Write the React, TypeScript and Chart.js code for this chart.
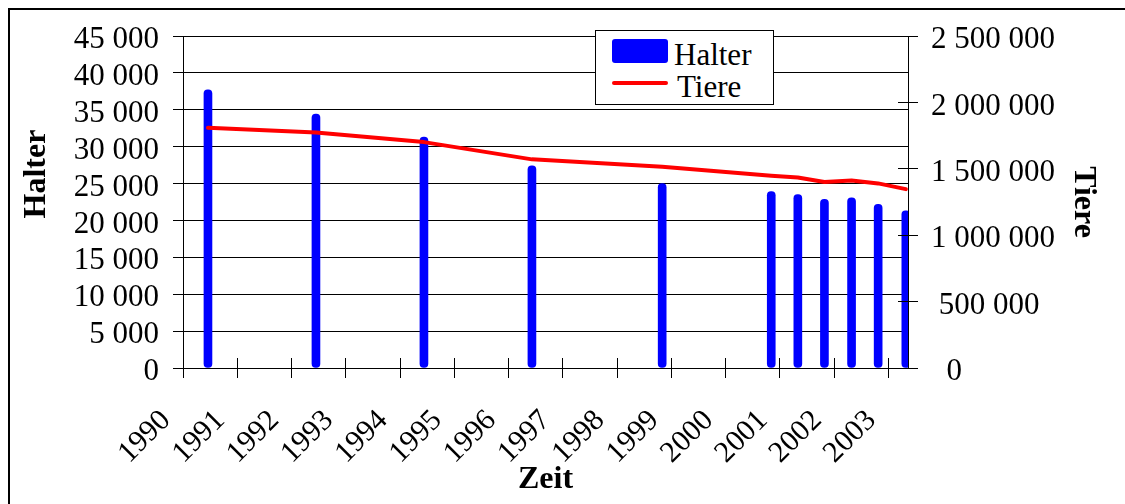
import React, { useEffect, useRef } from 'react';
import { Chart, registerables } from 'chart.js';

Chart.register(...registerables);

// ---------------- data ----------------
const yearTicks = [1990, 1991, 1992, 1993, 1994, 1995, 1996, 1997, 1998, 1999, 2000, 2001, 2002, 2003];
const xAxisMin = 1990;
const xAxisMax = 2003.36;
// positions of the survey dates on the time axis (in years)
const surveyPositions = [1990.46, 1992.45, 1994.44, 1996.43, 1998.83, 2000.84, 2001.33, 2001.82, 2002.32, 2002.81, 2003.32];
const halterValues = [37700, 34400, 31300, 27400, 25000, 23900, 23500, 22850, 23050, 22200, 21300];
const tiereValues = [1809000, 1774000, 1701000, 1571000, 1515000, 1448000, 1435000, 1400000, 1412000, 1390000, 1347000];
const halterAxisTicks = [0, 5000, 10000, 15000, 20000, 25000, 30000, 35000, 40000, 45000];
const tiereAxisTicks = [0, 500000, 1000000, 1500000, 2000000, 2500000];
const halterLabel = 'Halter';
const tiereLabel = 'Tiere';
const xTitle = 'Zeit';

// ---------------- styling ----------------
const FONT = "'Liberation Serif', 'Times New Roman', serif";
const BLUE = '#0000FF';
const RED = '#FF0000';

const fmt = (v: number) => String(v).replace(/\B(?=(\d{3})+(?!\d))/g, ' ');
const fmtRight = (v: number) => {
  const s = fmt(v);
  if (s.length === 1) return '  ' + s;
  if (s.length === 7) return ' ' + s;
  return s;
};

const crossTicks = {
  id: 'crossTicks',
  afterDatasetsDraw(chart: any) {
    const { ctx, chartArea, scales } = chart;
    const a = (p: number) => Math.round(p - 0.5) + 0.5;
    ctx.save();
    ctx.strokeStyle = '#000';
    ctx.lineWidth = 1;
    ctx.beginPath();
    const xs = scales.x;
    xs.ticks.forEach((t: any) => {
      const px = a(xs.getPixelForValue(t.value));
      ctx.moveTo(px, chartArea.bottom - 10);
      ctx.lineTo(px, chartArea.bottom);
    });
    const y2 = scales.y2;
    y2.ticks.forEach((t: any) => {
      const py = a(y2.getPixelForValue(t.value));
      ctx.moveTo(chartArea.right - 10, py);
      ctx.lineTo(chartArea.right, py);
    });
    const rx = a(chartArea.right);
    ctx.moveTo(rx, chartArea.top);
    ctx.lineTo(rx, chartArea.bottom);
    ctx.stroke();
    ctx.restore();
  },
};

export default function App() {
  const ref = useRef<HTMLCanvasElement | null>(null);

  useEffect(() => {
    if (!ref.current) return;
    const chart = new Chart(ref.current, {
      type: 'bar',
      data: {
        datasets: [
          {
            type: 'bar',
            label: halterLabel,
            data: surveyPositions.map((x, i) => ({ x, y: halterValues[i] })),
            backgroundColor: BLUE,
            borderWidth: 0,
            barThickness: 8,
            borderRadius: 4,
            borderSkipped: false,
            yAxisID: 'y',
            order: 1,
          } as any,
          {
            type: 'line',
            label: tiereLabel,
            data: surveyPositions.map((x, i) => ({ x, y: tiereValues[i] })),
            borderColor: RED,
            backgroundColor: RED,
            borderWidth: 4,
            pointRadius: 0,
            tension: 0,
            borderCapStyle: 'round',
            borderJoinStyle: 'round',
            fill: false,
            yAxisID: 'y2',
            order: 0,
          } as any,
        ],
      },
      options: {
        responsive: false,
        maintainAspectRatio: false,
        animation: false,
        events: [],
        layout: { padding: { top: 36, left: 0, right: 0, bottom: 0 } },
        plugins: { legend: { display: false }, tooltip: { enabled: false } },
        scales: {
          x: {
            type: 'linear',
            position: 'bottom',
            min: xAxisMin,
            max: xAxisMax,
            offset: false,
            afterBuildTicks: (s: any) => {
              s.ticks = yearTicks.map((v) => ({ value: v }));
            },
            afterFit: (s: any) => {
              s.height = 136;
            },
            grid: { display: true, drawOnChartArea: false, drawTicks: true, tickLength: 10, color: '#000', lineWidth: 1, offset: false },
            border: { display: true, color: '#000', width: 1 },
            ticks: {
              autoSkip: false,
              minRotation: 45,
              maxRotation: 45,
              padding: 25,
              labelOffset: -17,
              color: '#000',
              font: { family: FONT, size: 30 },
              callback: (v: any) => String(v),
            },
            title: { display: true, text: xTitle, color: '#000', font: { family: FONT, size: 32, weight: 'bold' }, padding: { top: 0, bottom: 5 } },
          },
          y: {
            type: 'linear',
            position: 'left',
            min: 0,
            max: 45000,
            afterBuildTicks: (s: any) => {
              s.ticks = halterAxisTicks.map((v) => ({ value: v }));
            },
            afterFit: (s: any) => {
              s.width = 183;
            },
            grid: { display: true, drawOnChartArea: true, drawTicks: true, tickLength: 10, color: '#000', lineWidth: 1 },
            border: { display: true, color: '#000', width: 1 },
            ticks: { autoSkip: false, padding: 14, labelOffset: 4, color: '#000', font: { family: FONT, size: 31, lineHeight: 1 }, callback: (v: any) => fmt(Number(v)) },
            title: { display: true, text: '       ' + halterLabel, color: '#000', font: { family: FONT, size: 32, weight: 'bold' }, padding: { top: 18, bottom: 0 } },
          },
          y2: {
            type: 'linear',
            position: 'right',
            min: 0,
            max: 2500000,
            afterBuildTicks: (s: any) => {
              s.ticks = tiereAxisTicks.map((v) => ({ value: v }));
            },
            afterFit: (s: any) => {
              s.width = 217;
            },
            grid: { display: true, drawOnChartArea: false, drawTicks: true, tickLength: 10, color: '#000', lineWidth: 1 },
            border: { display: true, color: '#000', width: 1 },
            ticks: { autoSkip: false, padding: 13, labelOffset: 4, color: '#000', font: { family: FONT, size: 31, lineHeight: 1 }, callback: (v: any) => fmtRight(Number(v)) },
            title: { display: true, text: tiereLabel, color: '#000', font: { family: FONT, size: 32, weight: 'bold' }, padding: { top: 23, bottom: 0 } },
          },
        },
      } as any,
      plugins: [crossTicks],
    });
    return () => chart.destroy();
  }, []);

  const legendText: React.CSSProperties = {
    position: 'absolute',
    fontFamily: FONT,
    fontSize: 31,
    lineHeight: '31px',
    color: '#000',
    whiteSpace: 'nowrap',
  };

  return (
    <div style={{ position: 'fixed', left: 0, top: 0, width: 1125, height: 504, overflow: 'hidden', background: '#fff' }}>
      <div style={{ position: 'absolute', left: 8, top: 8, width: 1200, height: 600, borderLeft: '2px solid #000', borderTop: '2px solid #000' }} />
      <canvas ref={ref} width={1125} height={504} style={{ position: 'absolute', left: 0, top: 0, width: 1125, height: 504, display: 'block' }} />
      <div style={{ position: 'absolute', left: 595, top: 30, width: 179, height: 75, boxSizing: 'border-box', border: '1px solid #000', background: '#fff' }}>
        <div style={{ position: 'absolute', left: 16, top: 8, width: 56, height: 24, background: BLUE, borderRadius: 3 }} />
        <span style={{ ...legendText, left: 78, top: 8 }}>{halterLabel}</span>
        <div style={{ position: 'absolute', left: 16, top: 50, width: 56, height: 4, background: RED, borderRadius: 2 }} />
        <span style={{ ...legendText, left: 81, top: 40 }}>{tiereLabel}</span>
      </div>
    </div>
  );
}
